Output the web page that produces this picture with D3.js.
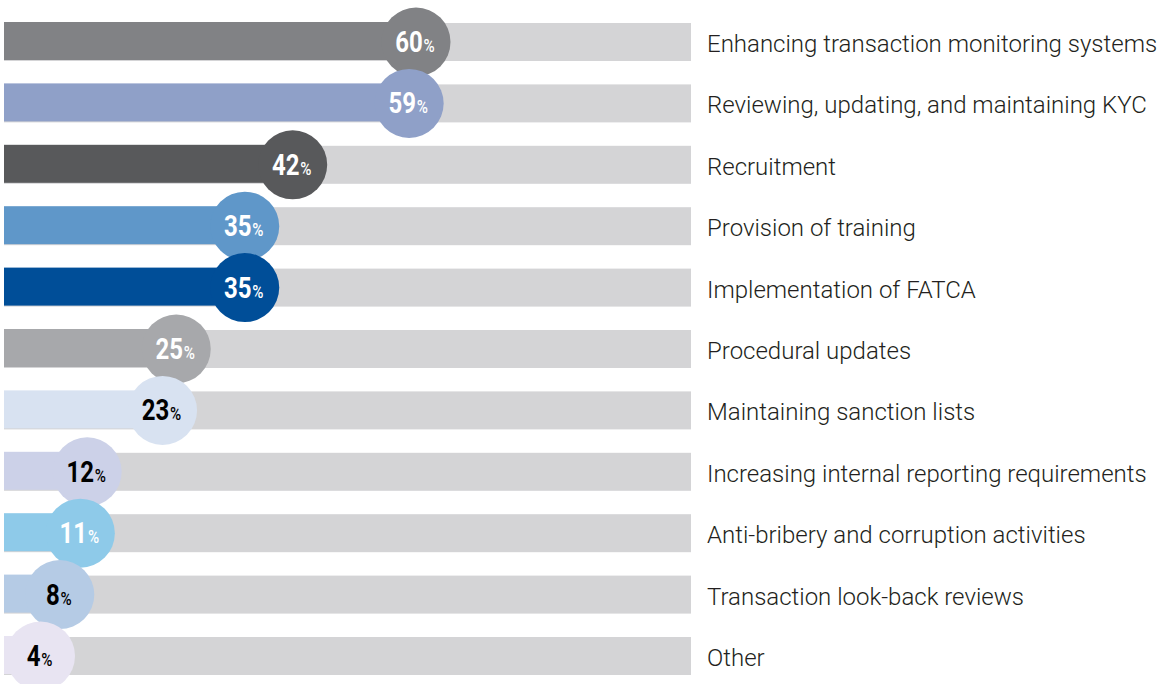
<!DOCTYPE html>
<html>
<head>
<meta charset="utf-8">
<script src="https://cdn.jsdelivr.net/npm/d3@7"></script>
<style>
  html, body { margin: 0; padding: 0; background: #fff; }
  svg { display: block; }
</style>
</head>
<body>
<div id="chart"></div>
<script>
// Data
const categories = [
    "Enhancing transaction monitoring systems",
    "Reviewing, updating, and maintaining KYC",
    "Recruitment",
    "Provision of training",
    "Implementation of FATCA",
    "Procedural updates",
    "Maintaining sanction lists",
    "Increasing internal reporting requirements",
    "Anti-bribery and corruption activities",
    "Transaction look-back reviews",
    "Other"
];
const values = [60, 59, 42, 35, 35, 25, 23, 12, 11, 8, 4];
const barColors = [
    "#818285", "#8fa0c8", "#58595b", "#5f97c9", "#004e98",
    "#a7a8ab", "#d8e2f1", "#ccd1e8", "#8ecae9", "#b5cbe5", "#e8e4f2"
];
// dark text on the light bubbles
const darkText = [false, false, false, false, false, false, true, true, false, true, true];

const width = 1165, height = 684;
const x0 = 4;
const barH = 38;
const r = 34.5;

const svg = d3.select("#chart")
    .append("svg")
    .attr("width", width)
    .attr("height", height);

const x = d3.scaleLinear().domain([0, 100]).range([5, 690]);
const y = d3.scalePoint().domain(categories).range([42, 656]);

const rows = categories.map((c, i) => ({
    name: c,
    value: values[i],
    color: barColors[i],
    dark: darkText[i]
}));

// Grey tracks
svg.selectAll(".track")
    .data(rows)
    .join("rect")
    .attr("class", "track")
    .attr("x", x0)
    .attr("y", d => y(d.name) - barH / 2)
    .attr("width", x(100) + 1 - x0)
    .attr("height", barH)
    .attr("fill", "#d4d4d6");

// Value bars
svg.selectAll(".bar")
    .data(rows)
    .join("rect")
    .attr("class", "bar")
    .attr("x", x0)
    .attr("y", d => y(d.name) - barH / 2 - 1)
    .attr("width", d => Math.max(0, x(d.value) - x0))
    .attr("height", barH)
    .attr("fill", d => d.color);

// Bubbles (kept inside the left edge)
const cx = d => Math.max(x(d.value), r + 6);

svg.selectAll(".bubble")
    .data(rows)
    .join("circle")
    .attr("class", "bubble")
    .attr("cx", cx)
    .attr("cy", d => y(d.name))
    .attr("r", r)
    .attr("fill", d => d.color);

// Value text, squeezed horizontally to look condensed
const vals = svg.selectAll(".val")
    .data(rows)
    .join("g")
    .attr("class", "val")
    .attr("transform", d => `translate(${cx(d) - 1},${y(d.name) + 10}) scale(0.8,1)`)
    .append("text")
    .attr("text-anchor", "middle")
    .attr("fill", d => d.dark ? "#000" : "#fff")
    .style("font-family", "Roboto, 'Liberation Sans', sans-serif");

vals.append("tspan")
    .text(d => d.value)
    .style("font-size", "30px")
    .style("font-weight", "bold");

vals.append("tspan")
    .text("%")
    .attr("dx", 1)
    .style("font-size", "19px")
    .style("font-weight", "500");

// Category labels
svg.selectAll(".label")
    .data(rows)
    .join("text")
    .attr("class", "label")
    .attr("x", 707)
    .attr("y", d => y(d.name) + 10)
    .attr("fill", "#231f20")
    .style("font-family", "Roboto, 'Liberation Sans', sans-serif")
    .style("font-weight", "300")
    .style("font-size", "24px")
    .text(d => d.name);
</script>
</body>
</html>
